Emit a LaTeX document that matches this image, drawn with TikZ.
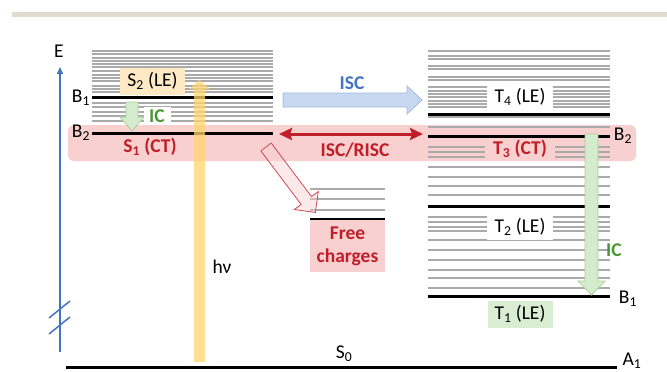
\documentclass[tikz,border=0pt]{standalone}
\usepackage{fontspec}
\setmainfont{Carlito}
\usetikzlibrary{arrows.meta}
\definecolor{topbar}{RGB}{223,219,207}
\definecolor{axisblue}{RGB}{68,114,196}
\definecolor{lvlgray}{RGB}{170,170,170}
\definecolor{bandpink}{RGB}{248,208,208}
\definecolor{s2yellow}{RGB}{253,233,196}
\definecolor{t1green}{RGB}{217,237,211}
\definecolor{icfill}{RGB}{213,235,205}
\definecolor{icdraw}{RGB}{168,208,150}
\definecolor{textgreen}{RGB}{76,150,56}
\definecolor{ctred}{RGB}{192,30,40}
\definecolor{iscfill}{RGB}{200,216,240}
\definecolor{iscdraw}{RGB}{160,185,225}
\definecolor{hvyellow}{RGB}{255,214,110}
\begin{document}
\begin{tikzpicture}[line join=miter,x=1pt,y=-1pt,
  every node/.style={font=\fontsize{19.5}{23}\selectfont,inner sep=0pt},
  boldlbl/.style={font=\fontsize{19.5}{23}\selectfont\bfseries},
  lvl/.style={draw=lvlgray,line width=1.1pt},
  lvlthick/.style={draw=black,line width=3pt},
  axis/.style={draw=axisblue,line width=1.5pt},
  icarrow/.style={fill=icfill,draw=icdraw,line width=0.8pt},
  iscarrow/.style={fill=iscfill,draw=iscdraw,line width=0.8pt}]
\useasboundingbox (0,0) rectangle (667,372);
% page rule and CT band
\fill[topbar] (12,12) rectangle (667,17);
\fill[bandpink,rounded corners=6pt] (68,125) rectangle (636,161);
% singlet manifold
\foreach \y in {51,54,58,61,64,67,71,75,78,81,86,89,92,103,107,112,116,121}
  \draw[lvl] (92,\y) -- (273,\y);
\draw[lvlthick] (92,97) -- (273,97);
\draw[lvlthick] (92,133) -- (273,133);
% triplet manifold
\foreach \y in {51,56,59,66,69,77,80,87,91,94,97,101,104,107,117,127,147,152,157,167,177,186,195,217,222,227,231,240,250,260,270,278,288}
  \draw[lvl] (428,\y) -- (610,\y);
\draw[lvlthick] (428,114) -- (610,114);
\draw[lvlthick] (428,136) -- (610,136);
\draw[lvlthick] (428,206) -- (610,206);
\draw[lvlthick] (428,296) -- (610,296);
% free charges
\foreach \y in {189,199,210}
  \draw[lvl] (310,\y) -- (385,\y);
\draw[lvlthick] (310,219) -- (385,219);
\node[boldlbl,text=ctred,fill=bandpink,minimum width=75,minimum height=52,align=center] (fc) at (347.5,246) {Free\\[0pt]charges};
% ground state
\draw[lvlthick] (66,367) -- (617,367);
\node (s0) at (344,354) {S\textsubscript{0}};
\node (a1) at (632,361) {A\textsubscript{1}};
% energy axis
\coordinate (axbot) at (60,352);
\coordinate (axtop) at (60,67);
\draw[axis,-{Triangle[length=7pt,width=6pt]}] (axbot) -- (axtop);
\draw[axis] (49,318) -- (70,301);
\draw[axis] (49,334) -- (70,317);
\node (e) at (59,51) {E};
% labels
\node[fill=s2yellow,minimum width=65,minimum height=27] (s2) at (152.5,81) {S\textsubscript{2} (LE)};
\node[boldlbl,text=ctred] (s1) at (150,147) {S\textsubscript{1} (CT)};
\node (b1l) at (81,98) {B\textsubscript{1}};
\node (b2l) at (81,133) {B\textsubscript{2}};
\node[fill=white,minimum width=66,minimum height=28] (t4) at (520,97) {T\textsubscript{4} (LE)};
\node[boldlbl,text=ctred,fill=bandpink,minimum width=70,minimum height=22] (t3) at (520,149) {T\textsubscript{3} (CT)};
\node[fill=white,minimum width=66,minimum height=26] (t2) at (520,226.5) {T\textsubscript{2} (LE)};
\node[fill=t1green,minimum width=65,minimum height=27] (t1) at (520,314) {T\textsubscript{1} (LE)};
\node (b2r) at (623,136) {B\textsubscript{2}};
\node (b1r) at (628,299) {B\textsubscript{1}};
% photon
\fill[hvyellow,opacity=0.75] (194,362) -- (194,89) -- (189,89) -- (199.5,80) -- (210,89) -- (205,89) -- (205,362) -- cycle;
\node (hv) at (222,267) {hν};
% internal conversion
\filldraw[icarrow] (126,102) -- (126,117) -- (120,117) -- (132,131) -- (144,117) -- (138,117) -- (138,102) -- cycle;
\node[boldlbl,text=textgreen,fill=white,minimum width=27,minimum height=18] (icl) at (157,116) {IC};
\filldraw[icarrow] (585,134) -- (585,281) -- (578,281) -- (591.5,295) -- (605,281) -- (598,281) -- (598,134) -- cycle;
\node[boldlbl,text=textgreen] (icr) at (614,250) {IC};
% intersystem crossing
\filldraw[iscarrow] (283,93) -- (407,93) -- (407,86) -- (422,100) -- (407,114) -- (407,107) -- (283,107) -- cycle;
\node[boldlbl,text=axisblue] (isc) at (352,83) {ISC};
\coordinate (s1end) at (279,134);
\coordinate (t3end) at (423,134);
\draw[ctred,line width=3pt,{Stealth[length=13pt,width=12pt,inset=2pt]}-{Stealth[length=13pt,width=12pt,inset=2pt]}] (s1end) -- (t3end);
\node[boldlbl,text=ctred] (iscrisc) at (355,150) {ISC/RISC};
% dissociation
\begin{scope}[shift={(266,147)},rotate=-53]
\filldraw[draw=ctred!80,fill=bandpink,fill opacity=0.45,line width=0.8pt] (0,-6.5) -- (67,-6.5) -- (67,-15) -- (82,0) -- (67,15) -- (67,6.5) -- (0,6.5) -- cycle;
\end{scope}
\end{tikzpicture}
\end{document}
